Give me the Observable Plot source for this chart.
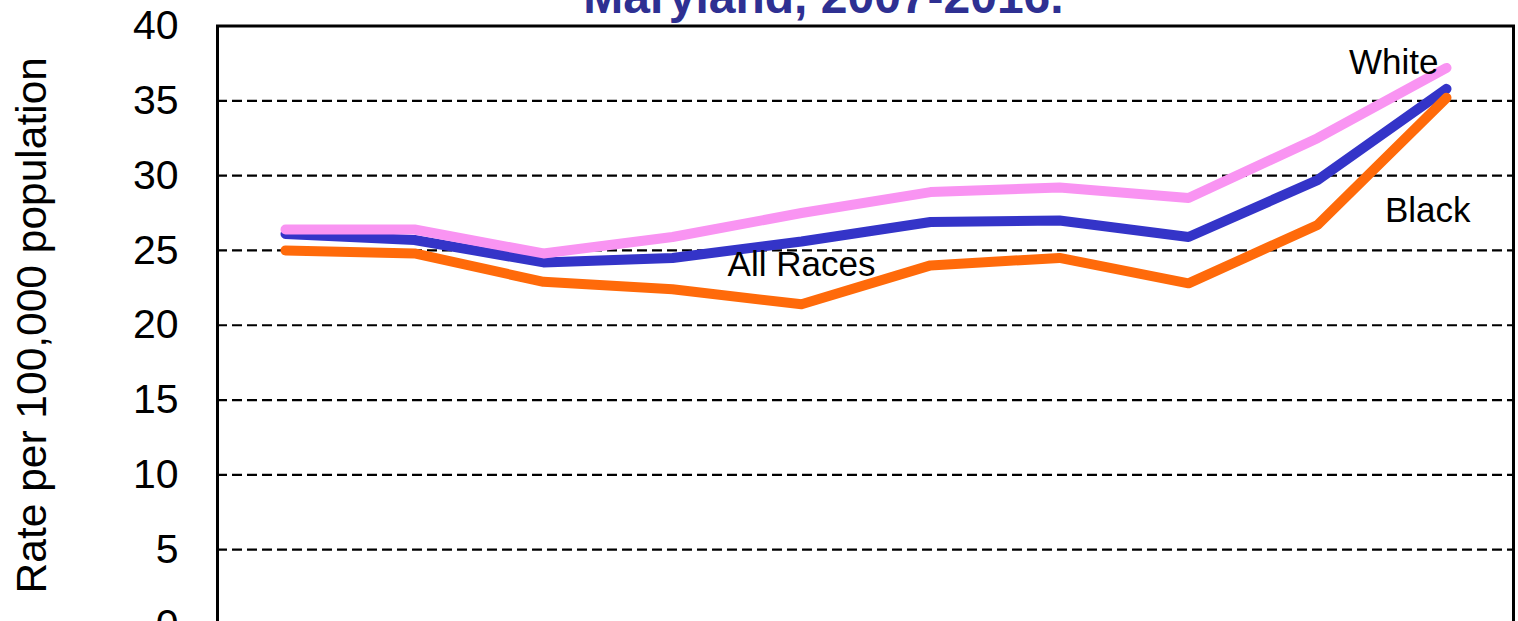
<!DOCTYPE html>
<html>
<head>
<meta charset="utf-8">
<script src="https://cdn.jsdelivr.net/npm/d3@7"></script>
<script src="https://cdn.jsdelivr.net/npm/@observablehq/plot@0.6"></script>
<style>
  html, body { margin: 0; padding: 0; background: #ffffff; overflow: hidden; }
  #chart svg { display: block; font-family: "Liberation Sans", Arial, sans-serif; }
</style>
</head>
<body>
<div id="chart"></div>
<script>
const years = [2007, 2008, 2009, 2010, 2011, 2012, 2013, 2014, 2015, 2016];
const allRaces = [26.1, 25.7, 24.2, 24.5, 25.6, 26.9, 27.0, 25.9, 29.7, 35.8];
const white = [26.4, 26.4, 24.8, 25.9, 27.5, 28.9, 29.2, 28.5, 32.5, 37.2];
const black = [25.0, 24.8, 22.9, 22.4, 21.4, 24.0, 24.5, 22.8, 26.7, 35.2];
const yTicks = [0, 5, 10, 15, 20, 25, 30, 35, 40];
const gridValues = [5, 10, 15, 20, 25, 30, 35];
const titleText = "Maryland, 2007-2016.";
const yLabel = "Rate per 100,000 population";

const toRows = (vals, series) => years.map((yr, i) => ({year: yr, value: vals[i], series}));
const rowsAll = toRows(allRaces, "All Races");
const rowsWhite = toRows(white, "White");
const rowsBlack = toRows(black, "Black");

const plot = Plot.plot({
  width: 1518,
  height: 640,
  marginLeft: 217,
  marginRight: 5,
  marginTop: 25.5,
  marginBottom: 16,
  style: {fontFamily: '"Liberation Sans", Arial, sans-serif', background: "#ffffff", overflow: "visible"},
  x: {type: "point", domain: years, padding: 0.5, axis: null},
  y: {domain: [0, 40]},
  marks: [
    Plot.ruleY(gridValues, {stroke: "#000", strokeWidth: 2.2, strokeDasharray: "10,5"}),
    Plot.frame({stroke: "#000", strokeWidth: 3}),
    Plot.axisY({ticks: yTicks, tickSize: 0, tickPadding: 39, fontSize: 41, label: null, fill: "#000"}),
    Plot.text([yLabel], {frameAnchor: "left", textAnchor: "middle", rotate: -90, dx: -172, lineAnchor: "bottom", fontSize: 42.5, fill: "#000"}),
    Plot.text([titleText], {frameAnchor: "top", dx: -42, dy: -13, lineAnchor: "bottom", fontSize: 48, fontWeight: "bold", fill: "#2e3092", textAnchor: "middle"}),
    Plot.line(rowsAll, {x: "year", y: "value", stroke: "#3434c8", strokeWidth: 10, strokeLinejoin: "round", strokeLinecap: "round"}),
    Plot.line(rowsBlack, {x: "year", y: "value", stroke: "#ff6a0a", strokeWidth: 10, strokeLinejoin: "round", strokeLinecap: "round"}),
    Plot.line(rowsWhite, {x: "year", y: "value", stroke: "#f994f2", strokeWidth: 10, strokeLinejoin: "round", strokeLinecap: "round"}),
    Plot.text([{label: "White", year: 2016, value: 36.8}], {x: "year", y: "value", text: "label", textAnchor: "end", dx: -8, lineAnchor: "bottom", fontSize: 35, fill: "#000"}),
    Plot.text([{label: "Black", year: 2016, value: 26.87}], {x: "year", y: "value", text: "label", textAnchor: "end", dx: 24, lineAnchor: "bottom", fontSize: 35, fill: "#000"}),
    Plot.text([{label: "All Races", year: 2011, value: 23.32}], {x: "year", y: "value", text: "label", textAnchor: "middle", lineAnchor: "bottom", fontSize: 35, fill: "#000"})
  ]
});
document.getElementById("chart").appendChild(plot);
</script>
</body>
</html>
